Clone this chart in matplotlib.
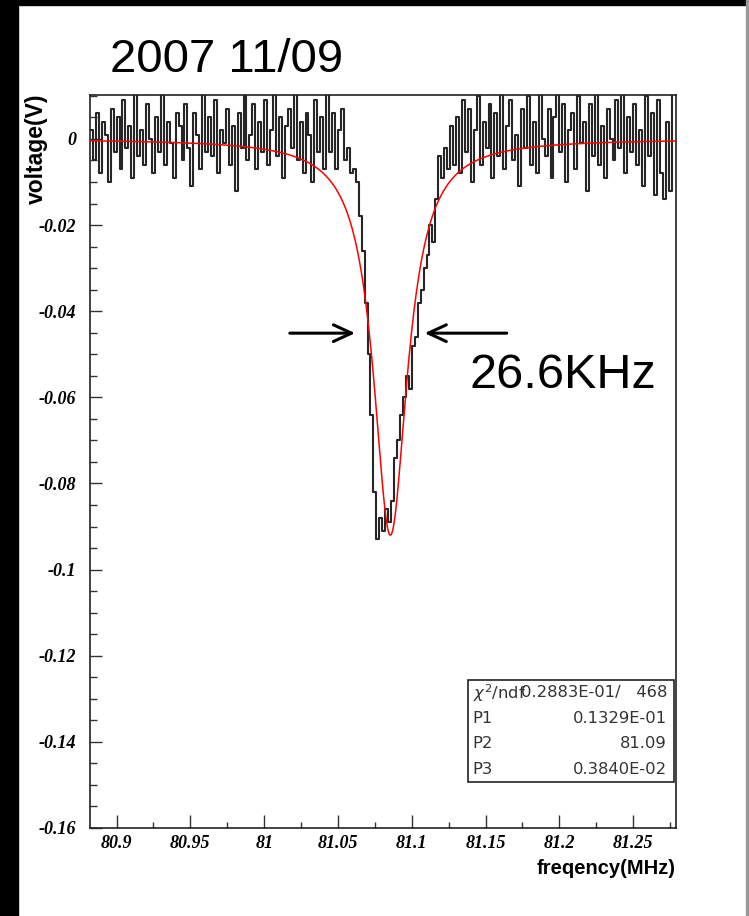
import numpy as np
import matplotlib
matplotlib.use('Agg')
import matplotlib.pyplot as plt
from matplotlib.patches import Rectangle
from matplotlib.ticker import MultipleLocator

freq_start = 80.883
freq_step = 0.002
signal_mV = [
    2, -5, 6, -8, 4, 1, -10, 7, -3, 5,
    -7, 9, -2, 3, -9, 12, -4, 2, -6, 8,
    0, -8, 5, -3, 11, -6, 4, -1, -9, 6,
    3, -5, 8, -2, -11, 6, 1, -7, 12, -3,
    5, -4, 9, -8, 2, -1, 7, -6, 3, -12,
    6, -2, 10, -5, 1, 8, -7, 4, -3, 9,
    -6, 2, 11, -4, 5, -9, 3, 7, -2, 12,
    -5, 4, -8, 6, 1, -10, 9, -3, 5, -7,
    11, -3, 6, -7, 2, 7, -5, -2,
    -8, -7, -10, -18, -26, -38, -50, -64, -82, -93, -88, -91,
    -86, -89, -84, -74, -70, -64, -60, -55, -58, -48, -46, -38,
    -35, -30, -27, -20, -24, -14, -4, -9, -2, -7, 3, -6,
    5, -8, 9, -3, 7, -10, 2, 10, -6, 4,
    -2, 8, -9, 6, -4, 12, -7, 3, 9, -5,
    1, -11, 7, -2, 10, -6, 4, -8, 11, 0,
    -4, 7, -9, 5, 12, -3, 8, -10, 2, 6,
    -7, 10, -1, 4, -12, 8, -4, 11, -6, 3,
    -9, 7, 0, -5, 9, -2, 12, -8, 5, -3,
    8, -6, 2, -11, 10, -4, 6, -13, 9, -8,
    -14, 4, -12, 11,
]

# lorentzian fit (center, half width, depth) as drawn
fit_center = 81.0855
fit_hwhm = 0.0140
fit_depth = 0.092

stat_rows = [(r"$\chi^2$/ndf", "0.2883E-01/   468"),
             ("P1", "0.1329E-01"),
             ("P2", "81.09"),
             ("P3", "0.3840E-02")]

x_lim = (80.882, 81.279)
y_lim = (-0.16, 0.0102)
arrow_y = -0.0451
left_arrow = (81.0155, 81.0635)
right_arrow = (81.1662, 81.1068)

freq = freq_start + freq_step * np.arange(len(signal_mV))
volt = np.array(signal_mV) / 1000.0
fx = np.linspace(x_lim[0], x_lim[1], 1000)
fy = -fit_depth * fit_hwhm**2 / ((fx - fit_center)**2 + fit_hwhm**2)

fig = plt.figure(figsize=(7.49, 9.16), dpi=100)
ax = fig.add_axes([90/749, 88/916, 586/749, 733/916])

ax.plot(freq, volt, drawstyle='steps-mid', color='#262626', lw=1.5, zorder=2)
ax.plot(fx, fy, color='red', lw=1.1, zorder=3)

ax.set_xlim(*x_lim)
ax.set_ylim(*y_lim)

ax.xaxis.set_minor_locator(MultipleLocator(0.025))
ax.yaxis.set_minor_locator(MultipleLocator(0.005))
ax.set_xticks(np.arange(80.9, 81.26, 0.05))
ax.set_xticklabels(['80.9', '80.95', '81', '81.05', '81.1', '81.15', '81.2', '81.25'])
ax.set_yticks(np.arange(-0.16, 0.001, 0.02))
ax.set_yticklabels(['-0.16', '-0.14', '-0.12', '-0.1', '-0.08', '-0.06', '-0.04', '-0.02', '0'])

ax.tick_params(axis='x', which='major', direction='in', length=9.5, width=1, color='#333', pad=5)
ax.tick_params(axis='x', which='minor', direction='in', length=4.5, width=1, color='#333')
ax.tick_params(axis='y', which='major', direction='in', length=8.5, width=1, color='#333', pad=10)
ax.tick_params(axis='y', which='minor', direction='in', length=5, width=1, color='#333')
for lab in ax.get_xticklabels() + ax.get_yticklabels():
    lab.set_family('Liberation Serif')
    lab.set_style('italic')
    lab.set_weight('bold')
    lab.set_fontsize(13)

for sp in ax.spines.values():
    sp.set_linewidth(1.2)
    sp.set_color('#222')

# stats box
box_x0, box_x1 = (468 - 90) / 586, (674 - 90) / 586
box_top, box_bot = (828 - 680) / 733, (828 - 782) / 733
ax.add_patch(Rectangle((box_x0, box_bot), box_x1 - box_x0, box_top - box_bot,
                       transform=ax.transAxes, fill=True, facecolor='white',
                       edgecolor='#222', lw=1.2, zorder=5, clip_on=False))
row_h = (box_top - box_bot) / len(stat_rows)
for k, (name, val) in enumerate(stat_rows):
    yc = box_top - (k + 0.5) * row_h
    ax.text(box_x0 + 0.008, yc, name, transform=ax.transAxes, ha='left', va='center',
            fontsize=11.8, family='DejaVu Sans', color='#333', zorder=6)
    ax.text(box_x1 - 0.012, yc, val, transform=ax.transAxes, ha='right', va='center',
            fontsize=11.8, family='DejaVu Sans', color='#333', zorder=6)

# FWHM markers
arrow_style = '->,head_length=1.3,head_width=0.6'
ax.annotate('', xy=(left_arrow[1], arrow_y), xytext=(left_arrow[0], arrow_y),
            arrowprops=dict(arrowstyle=arrow_style, lw=2.2, color='black'))
ax.annotate('', xy=(right_arrow[1], arrow_y), xytext=(right_arrow[0], arrow_y),
            arrowprops=dict(arrowstyle=arrow_style, lw=2.2, color='black'))

fig.text(470/749, (916 - 388)/916, '26.6KHz', fontsize=35, family='Liberation Sans',
         ha='left', va='baseline')
fig.text(110/749, (916 - 72)/916, '2007 11/09', fontsize=34, family='Liberation Sans',
         ha='left', va='baseline')

fig.text(676/749, (916 - 868)/916, 'freqency(MHz)', fontsize=14.5, family='Liberation Sans',
         weight='bold', ha='right', va='center')
fig.text(36/749, (916 - 93)/916, 'voltage(V)', fontsize=16.5, family='Liberation Sans',
         weight='bold', rotation=90, ha='center', va='top')

# screen-capture borders
fig.patches.append(Rectangle((0, 0), 18/749, 1, transform=fig.transFigure, color='black', zorder=10))
fig.patches.append(Rectangle((0, 1 - 5/916), 1, 5/916, transform=fig.transFigure, color='black', zorder=10))
fig.patches.append(Rectangle((746/749, 0), 1.5/749, 1, transform=fig.transFigure, color='#999', zorder=10))

fig.savefig('out.png', dpi=100)
